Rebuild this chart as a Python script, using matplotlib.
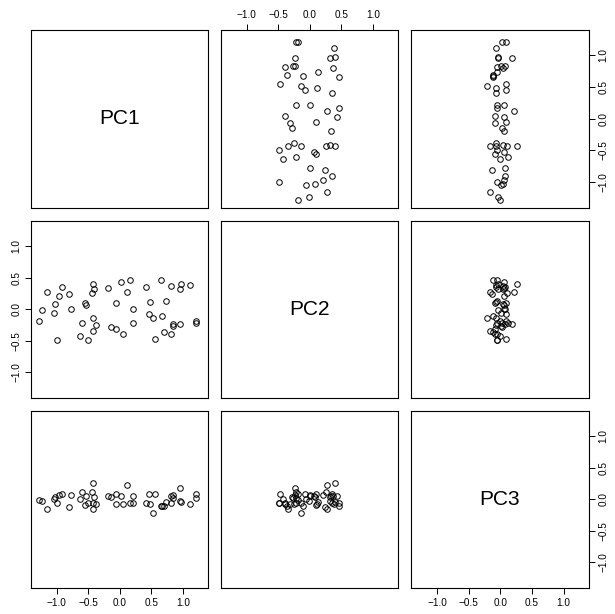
import matplotlib.pyplot as plt
import numpy as np

names = ['PC1', 'PC2', 'PC3']

pc1 = [-1.279, -1.242, -1.158, -1.042, -1.026, -1.000, -0.963, -0.911, -0.805, -0.774,
       -0.637, -0.600, -0.558, -0.532, -0.500, -0.432, -0.411, -0.437, -0.426, -0.379,
       -0.432, -0.195, -0.142, -0.063, -0.053,  0.026,  0.047,  0.121,  0.168,  0.211,
        0.211,  0.411,  0.458,  0.484,  0.521,  0.553,  0.653,  0.668,  0.695,  0.737,
        0.805,  0.811,  0.837,  0.837,  0.953,  0.968,  0.958,  1.111,  1.205,  1.211]
pc2 = [-0.184, -0.016,  0.279, -0.068,  0.089, -0.495,  0.205,  0.353,  0.247, -0.005,
       -0.432, -0.221,  0.105,  0.068, -0.489,  0.400,  0.326,  0.258, -0.147, -0.253,
       -0.342,  0.337, -0.289, -0.321,  0.100,  0.432, -0.400,  0.279,  0.458,  0.005,
       -0.216,  0.347, -0.084,  0.116, -0.137, -0.468,  0.468, -0.105, -0.368,  0.126,
        0.374, -0.400, -0.242, -0.268,  0.316,  0.405, -0.242,  0.384, -0.195, -0.221]
pc3 = [-0.011, -0.032, -0.163,  0.005,  0.037, -0.053,  0.063,  0.079, -0.132,  0.074,
       -0.005,  0.121, -0.089,  0.058, -0.058,  0.258,  0.037,  0.111, -0.068, -0.074,
       -0.163,  0.058,  0.032, -0.079,  0.089,  0.053, -0.084,  0.221, -0.058,  0.058,
       -0.058, -0.068,  0.084, -0.074, -0.216,  0.084, -0.111, -0.111, -0.116, -0.047,
        0.047, -0.058,  0.068,  0.011, -0.032, -0.042,  0.179, -0.074,  0.084,  0.026]

data = [pc1, pc2, pc3]
ticks = [-1.0, -0.5, 0.0, 0.5, 1.0]
tick_labels = ['\u22121.0', '\u22120.5', '0.0', '0.5', '1.0']
lims = (-1.41, 1.40)

plt.rcParams['font.family'] = ['Liberation Sans', 'DejaVu Sans']

W, H = 615, 614
xs = [(31, 208), (221, 398), (411, 589)]
ys = [(30, 208), (221, 398), (411, 588)]

fig = plt.figure(figsize=(W / 100, H / 100), dpi=100)

for i in range(3):
    for j in range(3):
        x0, x1 = xs[j]
        y0, y1 = ys[i]
        ax = fig.add_axes([x0 / W, 1 - y1 / H, (x1 - x0) / W, (y1 - y0) / H])
        ax.set_xlim(lims)
        ax.set_ylim(lims)
        for s in ax.spines.values():
            s.set_linewidth(0.8)
        ax.set_xticks(ticks)
        ax.set_yticks(ticks)
        ax.set_xticklabels(tick_labels)
        ax.set_yticklabels(tick_labels, rotation=90, va='center')
        ax.tick_params(direction='out', length=4, width=0.7, labelsize=7.2, pad=3,
                       bottom=False, top=False, left=False, right=False,
                       labelbottom=False, labeltop=False, labelleft=False, labelright=False)
        # R pairs style: alternating axes
        if i == 2 and j % 2 == 0:
            ax.tick_params(bottom=True, labelbottom=True)
        if i == 0 and j % 2 == 1:
            ax.tick_params(top=True, labeltop=True)
        if j == 0 and i % 2 == 1:
            ax.tick_params(left=True, labelleft=True)
        if j == 2 and i % 2 == 0:
            ax.tick_params(right=True, labelright=True)
        if i == j:
            ax.text(0.5, 0.5, names[i], transform=ax.transAxes, ha='center', va='center', fontsize=15)
        else:
            ax.plot(data[j], data[i], linestyle='none', marker='o', markersize=4,
                    markerfacecolor='none', markeredgecolor='black', markeredgewidth=0.7)

plt.savefig('out.png', dpi=100)
